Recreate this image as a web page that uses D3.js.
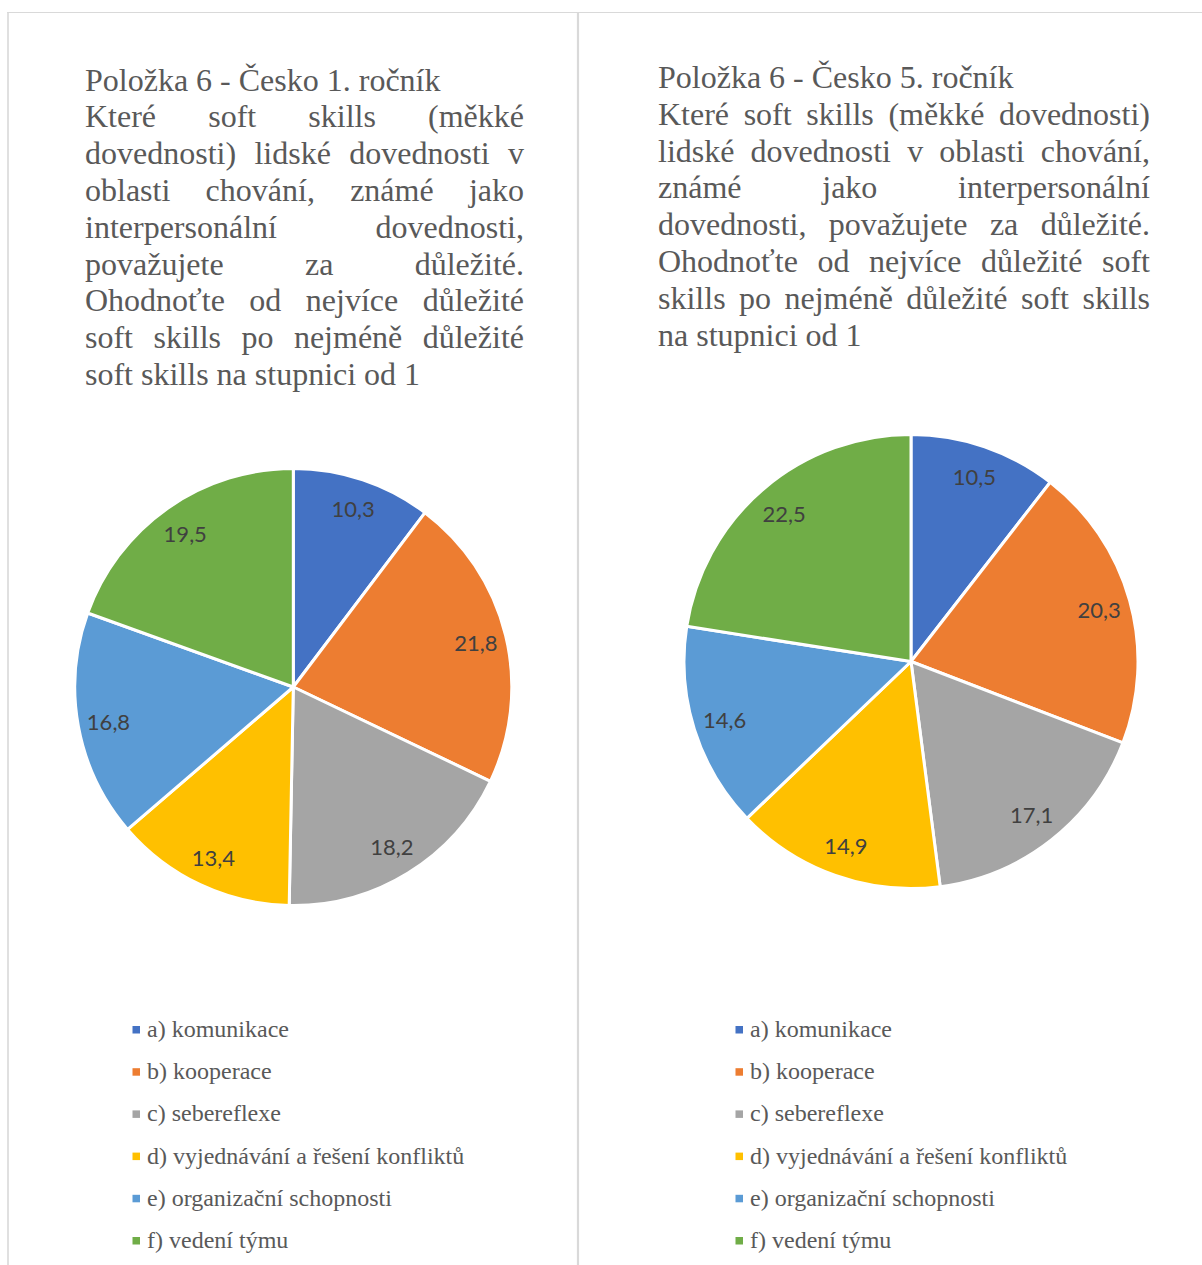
<!DOCTYPE html>
<html>
<head>
<meta charset="utf-8">
<script src="https://cdn.jsdelivr.net/npm/d3@7/dist/d3.min.js"></script>
<style>
  html, body { margin: 0; padding: 0; background: #ffffff; }
  svg { display: block; }
</style>
</head>
<body>
<svg id="chart" width="1202" height="1265"></svg>
<script>
// Soft-skill categories shared by both surveys
const categories = [
  "a) komunikace",
  "b) kooperace",
  "c) sebereflexe",
  "d) vyjednávání a řešení konfliktů",
  "e) organizační schopnosti",
  "f) vedení týmu"
];
// Share of answers (%) per category
const valuesGrade1 = [10.3, 21.8, 18.2, 13.4, 16.8, 19.5];
const valuesGrade5 = [10.5, 20.3, 17.1, 14.9, 14.6, 22.5];

const titleGrade1 = "Položka 6 - Česko 1. ročník";
const titleGrade5 = "Položka 6 - Česko 5. ročník";

// Question text, split into the lines as set in each panel
const questionGrade1 = [
  "Které soft skills (měkké",
  "dovednosti) lidské dovednosti v",
  "oblasti chování, známé jako",
  "interpersonální dovednosti,",
  "považujete za důležité.",
  "Ohodnoťte od nejvíce důležité",
  "soft skills po nejméně důležité",
  "soft skills na stupnici od 1"
];
const questionGrade5 = [
  "Které soft skills (měkké dovednosti)",
  "lidské dovednosti v oblasti chování,",
  "známé jako interpersonální",
  "dovednosti, považujete za důležité.",
  "Ohodnoťte od nejvíce důležité soft",
  "skills po nejméně důležité soft skills",
  "na stupnici od 1"
];

const colors = ["#4472C4", "#ED7D31", "#A5A5A5", "#FFC000", "#5B9BD5", "#70AD47"];
const color = d3.scaleOrdinal().domain(categories).range(colors);
const fmt = v => d3.format(".1f")(v).replace(".", ",");

const svg = d3.select("#chart");

// Panel frame lines
const frame = svg.append("g").attr("stroke", "#d9d9d9").attr("fill", "none");
frame.append("line").attr("x1", 7).attr("x2", 1202).attr("y1", 12.5).attr("y2", 12.5).attr("stroke-width", 1.2);
frame.append("line").attr("x1", 8).attr("x2", 8).attr("y1", 12).attr("y2", 1265).attr("stroke-width", 1.6);
frame.append("line").attr("x1", 578).attr("x2", 578).attr("y1", 12).attr("y2", 1265).attr("stroke-width", 2.2);

const panels = [
  { title: titleGrade1, lines: questionGrade1, values: valuesGrade1,
    textX: 85, textW: 439, titleY: 90.5, lineH: 36.8,
    cx: 293.3, cy: 687, r: 218.5,
    legendX: 136, legendY: 1030 },
  { title: titleGrade5, lines: questionGrade5, values: valuesGrade5,
    textX: 658, textW: 492, titleY: 88, lineH: 36.8,
    cx: 911, cy: 661.5, r: 227,
    legendX: 739, legendY: 1030 }
];

const serif = "'Liberation Serif', 'Times New Roman', serif";

panels.forEach(p => {
  const g = svg.append("g");

  // Title block
  const tg = g.append("g")
    .attr("font-family", serif)
    .attr("font-size", 32)
    .attr("fill", "#595959");

  tg.append("text").attr("x", p.textX).attr("y", p.titleY).text(p.title);

  // Justified question lines (last line left-aligned)
  p.lines.forEach((line, i) => {
    const y = p.titleY + p.lineH * (i + 1);
    const t = tg.append("text").attr("y", y);
    const words = line.split(" ");
    if (i === p.lines.length - 1 || words.length < 2) {
      t.attr("x", p.textX).text(line);
      return;
    }
    const widths = words.map(w => {
      const tmp = tg.append("text").text(w);
      const wd = tmp.node().getComputedTextLength();
      tmp.remove();
      return wd;
    });
    const gap = (p.textW - d3.sum(widths)) / (words.length - 1);
    let x = p.textX;
    words.forEach((w, k) => {
      t.append("tspan").attr("x", x).text(w);
      x += widths[k] + gap;
    });
  });

  // Pie
  const pie = d3.pie().sort(null).value(d => d.value);
  const arcs = pie(categories.map((c, i) => ({ cat: c, value: p.values[i] })));
  const arc = d3.arc().innerRadius(0).outerRadius(p.r);
  const labelArc = d3.arc().innerRadius(p.r * 0.86).outerRadius(p.r * 0.86);

  const pg = g.append("g").attr("transform", `translate(${p.cx},${p.cy})`);
  pg.selectAll("path")
    .data(arcs)
    .join("path")
    .attr("d", arc)
    .attr("fill", d => color(d.data.cat))
    .attr("stroke", "#ffffff")
    .attr("stroke-width", 3)
    .attr("stroke-linejoin", "round");

  pg.selectAll("text")
    .data(arcs)
    .join("text")
    .attr("transform", d => `translate(${labelArc.centroid(d)})`)
    .attr("text-anchor", "middle")
    .attr("dominant-baseline", "central")
    .attr("font-family", "Lato, 'Open Sans', sans-serif")
    .attr("font-size", 22)
    .attr("fill", "#404040")
    .text(d => fmt(d.data.value));

  // Legend
  const lg = g.append("g").attr("transform", `translate(${p.legendX},${p.legendY})`);
  const items = lg.selectAll("g")
    .data(categories)
    .join("g")
    .attr("transform", (d, i) => `translate(0,${i * 42.2})`);
  items.append("rect")
    .attr("x", -3.5).attr("y", -4)
    .attr("width", 7.5).attr("height", 7.5)
    .attr("fill", d => color(d));
  items.append("text")
    .attr("x", 11)
    .attr("y", 7)
    .attr("font-family", serif)
    .attr("font-size", 24)
    .attr("fill", "#595959")
    .text(d => d);
});
</script>
</body>
</html>
